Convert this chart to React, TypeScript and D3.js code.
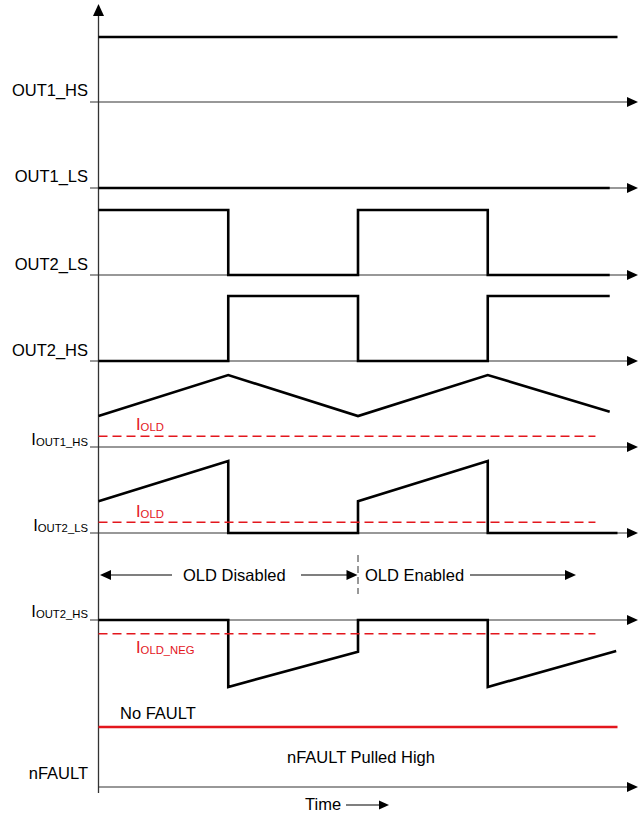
import React from 'react';
import * as d3 from 'd3';

const W = 643;
const H = 814;

// time is in switching half-periods, 0..4
const out1HsTimes = [0, 4.0];
const out1HsLevels = [1, 1];
const out1LsTimes = [0, 3.94];
const out1LsLevels = [0, 0];
const out2Times = [0, 1, 1, 2, 2, 3, 3, 3.94];
const out2LsLevels = [1, 1, 0, 0, 1, 1, 0, 0];
const out2HsLevels = [0, 0, 1, 1, 0, 0, 1, 1];
const iOut1HsTimes = [0, 1, 2, 3, 3.94];
const iOut1HsValues = [0.43, 1, 0.43, 1, 0.49];
const iOut2LsTimes = [0, 1, 1, 2, 2, 3, 3, 4.0];
const iOut2LsValues = [0.44, 1, 0, 0, 0.44, 1, 0, 0];
const iOut2HsTimes = [0, 1, 1, 2, 2, 3, 3, 3.99];
const iOut2HsValues = [0, 0, -0.93, -0.44, 0, 0, -0.93, -0.43];
const nFaultTimes = [0, 4.0];
const nFaultLevels = [1, 1];

const thresholdValues = [0.15, 0.15, -0.19];
const thresholdNames = ['OLD', 'OLD', 'OLD_NEG'];
const thresholdEnd = 3.83;
const oldSwitchTime = 2;

const RED = '#e3161d';
const FONT = '"Liberation Sans", Arial, Helvetica, sans-serif';
const FS = 16.5;
const SUB = 11.3;

const timeScale = d3.scaleLinear().domain([0, 4]).range([98.5, 617.5]);

type Channel = {
  main: string;
  sub?: string;
  base: number;
  span: number;
  times: number[];
  values: number[];
  color?: string;
  labelDy: number;
};

const channels: Channel[] = [
  { main: 'OUT1_HS', base: 102, span: 65, times: out1HsTimes, values: out1HsLevels, labelDy: -6 },
  { main: 'OUT1_LS', base: 188, span: 65, times: out1LsTimes, values: out1LsLevels, labelDy: -6 },
  { main: 'OUT2_LS', base: 275, span: 65, times: out2Times, values: out2LsLevels, labelDy: -5 },
  { main: 'OUT2_HS', base: 361, span: 65, times: out2Times, values: out2HsLevels, labelDy: -5 },
  { main: 'I', sub: 'OUT1_HS', base: 447, span: 72, times: iOut1HsTimes, values: iOut1HsValues, labelDy: -2 },
  { main: 'I', sub: 'OUT2_LS', base: 533, span: 72, times: iOut2LsTimes, values: iOut2LsValues, labelDy: -2 },
  { main: 'I', sub: 'OUT2_HS', base: 620, span: 72, times: iOut2HsTimes, values: iOut2HsValues, labelDy: -3 },
  { main: 'nFAULT', base: 787, span: 60, times: nFaultTimes, values: nFaultLevels, color: RED, labelDy: -8 },
];

const thresholdChannels = [4, 5, 6];
const thresholdLabelDy = [-6, -5, 19];

const arrowRight = (x: number, y: number, len = 11, half = 5) =>
  `M${x},${y} L${x - len},${y - half} L${x - len},${y + half} Z`;
const arrowLeft = (x: number, y: number, len = 11, half = 5) =>
  `M${x},${y} L${x + len},${y - half} L${x + len},${y + half} Z`;

const App = () => {
  const axisX = timeScale(0);
  const axisEnd = 638;

  return (
    <svg
      width={W}
      height={H}
      style={{ position: 'absolute', left: 0, top: 0, background: '#fff' }}
      fontFamily={FONT}
    >
      {/* vertical axis */}
      <line x1={axisX} y1={12} x2={axisX} y2={793} stroke="#333" strokeWidth={1.3} />
      <path d={`M${axisX},4 L${axisX - 5.5},16 L${axisX + 5.5},16 Z`} fill="#000" />

      {channels.map((c, i) => {
        const y = d3.scaleLinear().domain([0, 1]).range([c.base, c.base - c.span]);
        const line = d3
          .line<number>()
          .x((_, k) => timeScale(c.times[k]))
          .y((v) => y(v));
        const last = i === channels.length - 1;
        return (
          <g key={i}>
            <line
              x1={last ? axisX : 90}
              y1={c.base}
              x2={axisEnd - 8}
              y2={c.base}
              stroke="#333"
              strokeWidth={1.2}
            />
            <path d={arrowRight(axisEnd, c.base)} fill="#000" />
            <path
              d={line(c.values) || ''}
              fill="none"
              stroke={c.color || '#000'}
              strokeWidth={2.6}
              strokeLinejoin="miter"
            />
            <text x={88} y={c.base + c.labelDy} textAnchor="end" fontSize={FS} fill="#000">
              {c.main}
              {c.sub && (
                <tspan fontSize={SUB} dy={1}>
                  {c.sub}
                </tspan>
              )}
            </text>
          </g>
        );
      })}

      {/* overload thresholds */}
      {thresholdChannels.map((ci, k) => {
        const c = channels[ci];
        const y = d3.scaleLinear().domain([0, 1]).range([c.base, c.base - c.span]);
        const ty = y(thresholdValues[k]);
        return (
          <g key={'t' + k}>
            <line
              x1={timeScale(0)}
              x2={timeScale(thresholdEnd)}
              y1={ty}
              y2={ty}
              stroke={RED}
              strokeWidth={1.4}
              strokeDasharray="9,5"
            />
            <text x={136} y={ty + thresholdLabelDy[k]} fontSize={FS} fill={RED}>
              I
              <tspan fontSize={SUB} dy={1}>
                {thresholdNames[k]}
              </tspan>
            </text>
          </g>
        );
      })}

      {/* OLD disabled / enabled annotation */}
      <g>
        <path d={arrowLeft(timeScale(0) + 1.5, 575)} fill="#000" />
        <line x1={timeScale(0) + 10} x2={172} y1={575} y2={575} stroke="#000" strokeWidth={1.2} />
        <text x={183} y={580.5} fontSize={FS} fill="#000">OLD Disabled</text>
        <line x1={301} x2={timeScale(oldSwitchTime) - 8} y1={575} y2={575} stroke="#000" strokeWidth={1.2} />
        <path d={arrowRight(timeScale(oldSwitchTime) - 0.5, 575)} fill="#000" />
        <line
          x1={timeScale(oldSwitchTime)}
          x2={timeScale(oldSwitchTime)}
          y1={555}
          y2={594}
          stroke="#333"
          strokeWidth={1}
          strokeDasharray="7,4"
        />
        <text x={365} y={580.5} fontSize={FS} fill="#000">OLD Enabled</text>
        <line x1={470} x2={567} y1={575} y2={575} stroke="#000" strokeWidth={1.2} />
        <path d={arrowRight(576, 575)} fill="#000" />
      </g>

      {/* nFAULT texts */}
      <text x={120} y={719} fontSize={FS} fill="#000">No FAULT</text>
      <text x={287} y={763} fontSize={FS} fill="#000">nFAULT Pulled High</text>

      {/* time label */}
      <text x={305} y={810} fontSize={FS} fill="#000">Time</text>
      <line x1={346} x2={381} y1={805} y2={805} stroke="#000" strokeWidth={1.2} />
      <path d={arrowRight(389, 805, 10, 4.5)} fill="#000" />
    </svg>
  );
};

export default App;
